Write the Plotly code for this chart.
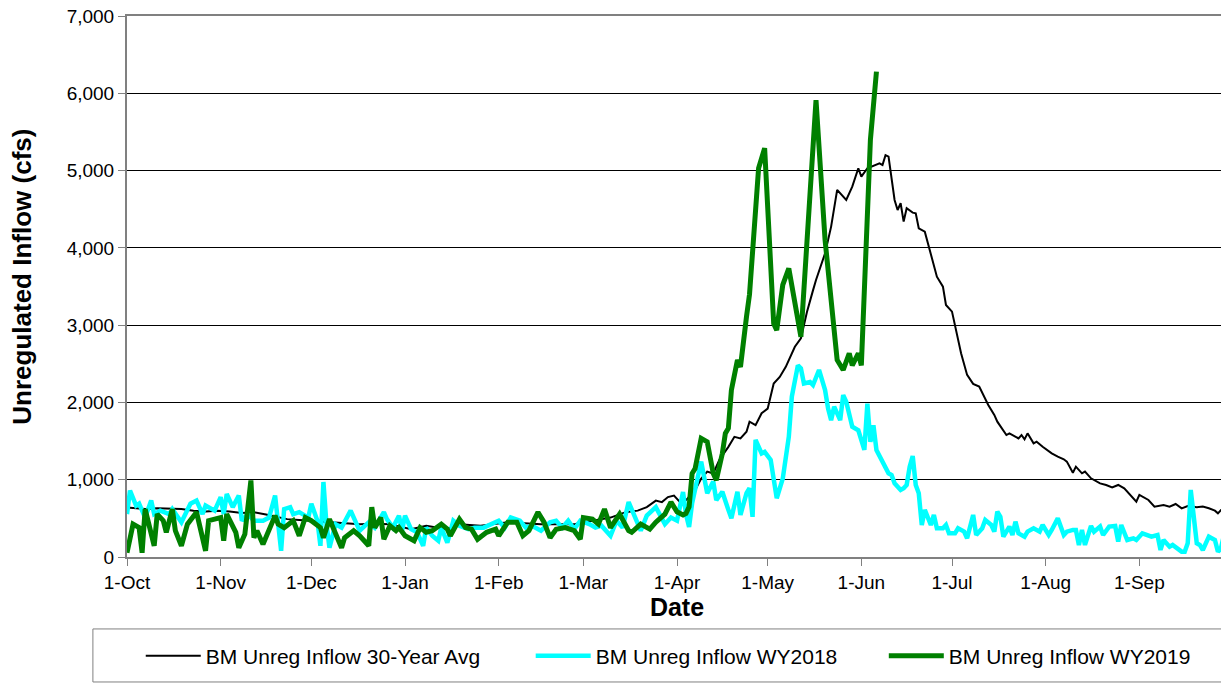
import pandas as pd
import plotly.graph_objects as go

start = pd.Timestamp("2018-10-01")

# 30-year average (day offset from 1-Oct, cfs)
avg_day = [0, 3, 6, 10, 14, 18, 22, 26, 30, 34, 38, 42, 46, 50, 53, 57, 61, 65, 68, 72, 77, 82, 87, 94, 99,
           106, 110, 117, 126, 137, 148, 154, 160, 165, 169, 172, 175, 177, 179, 181, 183, 185, 188, 190, 192,
           194, 196, 199, 201, 203, 205, 206, 208, 210, 212, 214, 216, 218, 221, 223, 225, 227, 228, 231, 233,
           235, 237, 238, 240, 242, 243, 245, 249, 250, 251, 252, 254, 255, 256, 257, 258, 260, 261, 262, 264,
           266, 268, 270, 271, 273, 275, 276, 278, 280, 282, 285, 287, 288, 291, 292, 295, 296, 297, 298, 300,
           301, 303, 306, 308, 310, 311, 313, 314, 316, 317, 319, 322, 324, 326, 328, 330, 332, 334, 335, 338,
           340, 342, 343, 345, 347, 349, 351, 354, 356, 358, 360, 361, 362, 364]
avg_cfs = [640, 630, 620, 630, 625, 620, 600, 590, 600, 590, 570, 580, 550, 510, 490, 480, 470, 460, 450, 440, 425,
           430, 425, 360, 405, 360, 425, 405, 450, 425, 425, 470, 510, 580, 600, 645, 730, 710, 775, 795, 710, 735,
           865, 1015, 1105, 1080, 1255, 1425, 1555, 1535, 1620, 1750, 1705, 1860, 1920, 2245, 2330, 2460, 2720,
           2830, 3170, 3450, 3585, 3930, 4275, 4750, 4663, 4620, 4792, 5030, 4922, 5030, 5094, 5073, 5200, 5180,
           4620, 4490, 4577, 4340, 4512, 4456, 4447, 4253, 4210, 3930, 3627, 3498, 3261, 3175, 2808, 2636, 2356,
           2240, 2205, 1968, 1839, 1751, 1578, 1600, 1535, 1578, 1522, 1600, 1470, 1492, 1427, 1341, 1298, 1264,
           1234, 1091, 1169, 1083, 1105, 1018, 953, 932, 901, 932, 889, 803, 716, 803, 738, 652, 660, 673, 652,
           686, 630, 660, 643, 652, 630, 600, 565, 608, 587]

# WY2018
wy18_day = [0, 1, 3, 4, 6, 8, 9, 11, 14, 15, 18, 20, 21, 23, 25, 26, 29, 31, 32, 33, 35, 37, 38, 40, 42, 45, 47,
            49, 50, 51, 52, 54, 55, 57, 60, 61, 63, 64, 65, 66, 67, 69, 71, 74, 76, 77, 80, 82, 85, 86, 88, 90,
            91, 92, 94, 96, 98, 99, 101, 103, 104, 106, 108, 110, 113, 115, 118, 121, 123, 125, 127, 130, 132,
            134, 137, 140, 142, 144, 146, 148, 150, 153, 155, 157, 160, 162, 164, 166, 168, 170, 172, 175, 178,
            180, 182, 184, 185, 186, 187, 189, 190, 192, 194, 195, 197, 199, 200, 202, 203, 205, 206, 207, 208,
            210, 211, 213, 215, 217, 219, 220, 222, 223, 224, 226, 227, 229, 231, 232, 233, 234, 236, 237, 238,
            240, 242, 244, 245, 246, 247, 248, 250, 252, 253, 254, 256, 257, 258, 259, 260, 261, 262, 263, 264,
            266, 267, 268, 270, 271, 272, 274, 275, 277, 278, 280, 281, 283, 284, 286, 287, 288, 289, 290, 292,
            293, 294, 295, 297, 298, 300, 302, 303, 305, 306, 308, 310, 311, 313, 314, 315, 316, 317, 319, 320,
            322, 323, 325, 327, 328, 329, 331, 333, 334, 336, 338, 339, 341, 342, 343, 345, 346, 348, 349, 350,
            351, 352, 354, 355, 356, 358, 360, 361, 362, 363, 364]
wy18_cfs = [555, 860, 665, 690, 510, 730, 555, 600, 555, 620, 450, 620, 690, 730, 555, 665, 600, 775, 555, 815,
            645, 795, 470, 555, 470, 470, 510, 795, 470, 80, 620, 645, 555, 580, 510, 690, 470, 145, 970, 425, 120,
            425, 380, 600, 425, 340, 450, 380, 580, 490, 380, 535, 340, 535, 360, 320, 145, 380, 275, 210, 380, 185,
            470, 405, 360, 380, 380, 425, 470, 380, 510, 470, 380, 405, 340, 450, 470, 380, 470, 360, 470, 425, 380,
            405, 275, 470, 380, 710, 535, 340, 535, 645, 425, 510, 470, 840, 545, 390, 695, 1080, 1235, 825, 975,
            735, 845, 610, 500, 845, 545, 825, 890, 520, 1515, 1340, 1360, 1255, 760, 1015, 1555, 2075, 2480, 2440,
            2245, 2265, 2225, 2420, 2160, 1920, 1770, 1945, 1770, 2095, 2010, 1685, 1640, 1385, 1985, 1490, 1705,
            1385, 1235, 1083, 1061, 953, 867, 889, 932, 1169, 1307, 932, 824, 414, 609, 414, 544, 371, 371, 414,
            306, 306, 371, 328, 242, 544, 285, 371, 479, 414, 328, 587, 522, 263, 393, 285, 457, 306, 263, 328, 371,
            328, 414, 285, 350, 500, 285, 328, 350, 350, 156, 350, 156, 401, 328, 393, 285, 393, 401, 200, 414, 220,
            242, 220, 306, 285, 263, 285, 91, 220, 134, 156, 91, 69, 69, 177, 867, 177, 156, 91, 263, 220, 69, 112,
            285, 306]

# WY2019
wy19_day = [0, 2, 4, 5, 6, 8, 9, 10, 12, 13, 15, 16, 18, 20, 23, 26, 27, 29, 31, 32, 33, 36, 37, 39, 41, 42, 43,
            45, 49, 50, 52, 55, 57, 59, 61, 64, 65, 67, 69, 71, 72, 75, 77, 80, 81, 82, 84, 85, 87, 89, 90, 92, 95,
            97, 99, 101, 104, 106, 107, 110, 112, 114, 116, 119, 122, 123, 126, 129, 131, 133, 136, 138, 140, 142,
            145, 148, 150, 151, 154, 156, 158, 160, 163, 166, 167, 170, 173, 175, 178, 180, 182, 184, 185, 186,
            187, 188, 190, 192, 194, 195, 197, 198, 199, 200, 202, 203, 205, 206, 209, 211, 214, 215, 217, 219,
            223, 228, 231, 234, 235, 237, 239, 240, 242, 243, 246, 248]
wy19_cfs = [55, 425, 380, 55, 620, 340, 145, 555, 470, 320, 620, 340, 145, 425, 580, 80, 470, 490, 510, 210, 555,
            320, 120, 295, 990, 250, 340, 165, 535, 425, 380, 470, 275, 510, 470, 380, 250, 490, 320, 120, 250, 340,
            275, 145, 645, 380, 510, 230, 405, 340, 380, 275, 210, 380, 320, 340, 425, 360, 275, 490, 380, 360, 230,
            320, 360, 275, 450, 450, 275, 340, 580, 450, 250, 360, 380, 340, 230, 510, 490, 425, 620, 380, 555, 340,
            320, 425, 360, 450, 555, 710, 585, 545, 565, 650, 1080, 1145, 1535, 1490, 1080, 995, 1340, 1600, 1665,
            2160, 2550, 2460, 3110, 3400, 5030, 5290, 3020, 2935, 3520, 3735, 2850, 5910, 4100, 3020, 2550, 2420,
            2635, 2480, 2635, 2480, 5400, 6280]

month_ticks = pd.date_range("2018-10-01", "2019-09-01", freq="MS")

def to_dates(days):
    return start + pd.to_timedelta(days, unit="D")

fig = go.Figure()
fig.add_trace(go.Scatter(x=to_dates(avg_day), y=avg_cfs, mode="lines", name="BM Unreg Inflow 30-Year Avg",
                         line=dict(color="black", width=2), legend="legend"))
fig.add_trace(go.Scatter(x=to_dates(wy18_day), y=wy18_cfs, mode="lines", name="BM Unreg Inflow WY2018",
                         line=dict(color="#00FFFF", width=4.5), legend="legend2"))
fig.add_trace(go.Scatter(x=to_dates(wy19_day), y=wy19_cfs, mode="lines", name="BM Unreg Inflow WY2019",
                         line=dict(color="#008000", width=5), legend="legend3"))

# page body has an 8px margin, so the figure is sized to end at the window edge
legend_style = dict(orientation="h", yanchor="middle", y=-0.183, xanchor="left", itemwidth=55,
                    bgcolor="rgba(0,0,0,0)", font=dict(family="Liberation Sans, Arial", size=21, color="black"))

fig.update_layout(
    width=1221, height=675,
    margin=dict(l=119, r=2, t=8, b=126, autoexpand=False),
    paper_bgcolor="white", plot_bgcolor="white",
    font=dict(family="Liberation Sans, Arial", size=19, color="black"),
    showlegend=True,
    legend=dict(x=0.0125, **legend_style),
    legend2=dict(x=0.367, **legend_style),
    legend3=dict(x=0.688, **legend_style),
    xaxis=dict(
        range=[pd.Timestamp("2018-10-01"), pd.Timestamp("2019-09-30")],
        tickvals=month_ticks, tickformat="%-d-%b",
        ticks="outside", ticklen=7, tickcolor="#808080", tickwidth=1,
        showline=True, linecolor="#808080", linewidth=2, mirror=True,
        showgrid=False, zeroline=False, ticklabeloverflow="allow",
        tickfont=dict(size=19),
        title=dict(text="<b>Date</b>", font=dict(size=25), standoff=2),
    ),
    yaxis=dict(
        range=[0, 7000], dtick=1000, tickformat=",",
        ticks="outside", ticklen=7, tickcolor="#808080", tickwidth=1,
        showline=True, linecolor="#808080", linewidth=2, mirror=True,
        showgrid=True, gridcolor="black", gridwidth=1, zeroline=False, ticklabeloverflow="allow",
        tickfont=dict(size=19),
    ),
    annotations=[dict(text="<b>Unregulated Inflow (cfs)</b>", xref="paper", yref="paper",
                      x=-0.0955, y=0.518, textangle=-90, showarrow=False,
                      xanchor="center", yanchor="middle", font=dict(size=26))],
    shapes=[dict(type="rect", xref="paper", yref="paper", x0=-0.031, x1=1.01, y0=-0.133, y1=-0.231,
                 line=dict(color="#808080", width=1), fillcolor="rgba(0,0,0,0)")],
)

fig.write_html("out.html")
